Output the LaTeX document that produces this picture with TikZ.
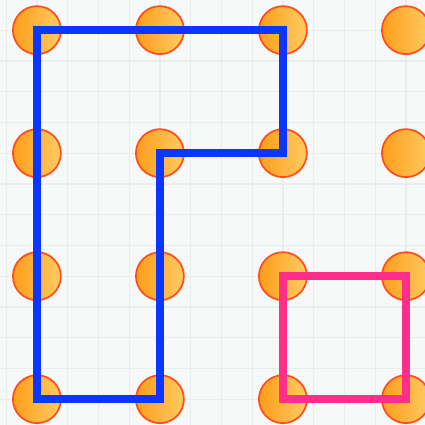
\documentclass[tikz,border=0pt]{standalone}
\usepackage{tikz}

\definecolor{bgpaper}{HTML}{F7F9F9}
\definecolor{gridline}{HTML}{E8EDEE}
\definecolor{dotleft}{HTML}{FF9E1A}
\definecolor{dotright}{HTML}{FFCB63}
\definecolor{dotrim}{HTML}{FF4F1E}
\definecolor{pathblue}{HTML}{0A36FF}
\definecolor{pathpink}{HTML}{FF2E8A}

\tikzset{
  dot/.style={circle, draw=dotrim, line width=0.4pt, minimum size=0.39cm,
    inner sep=0pt, left color=dotleft, right color=dotright},
  route/.style={line width=1.8pt, line join=miter},
}

\begin{document}
\begin{tikzpicture}
            % paper and faint grid
            \fill[bgpaper] (-0.30,0.245) rectangle (3.155,-3.21);
            \useasboundingbox (-0.30,0.245) rectangle (3.155,-3.21);
            \draw[gridline, line width=0.3pt, step=0.25] (-0.30,-3.21) grid (3.155,0.245);

            % dots
            \foreach \i in {1,...,4} {
              \foreach \j in {1,...,4} {
                \node[dot] (d\i\j) at ({\i-1},{-(\j-1)}) {};
              }
            }

            % blue route
            \draw[route, pathblue] (d11.center) -- (d31.center) -- (d32.center)
              -- (d22.center) -- (d24.center) -- (d14.center) -- cycle;

            % pink square
            \draw[route, pathpink] (d33.center) -- (d43.center) -- (d44.center)
              -- (d34.center) -- cycle;
        \end{tikzpicture}
\end{document}
